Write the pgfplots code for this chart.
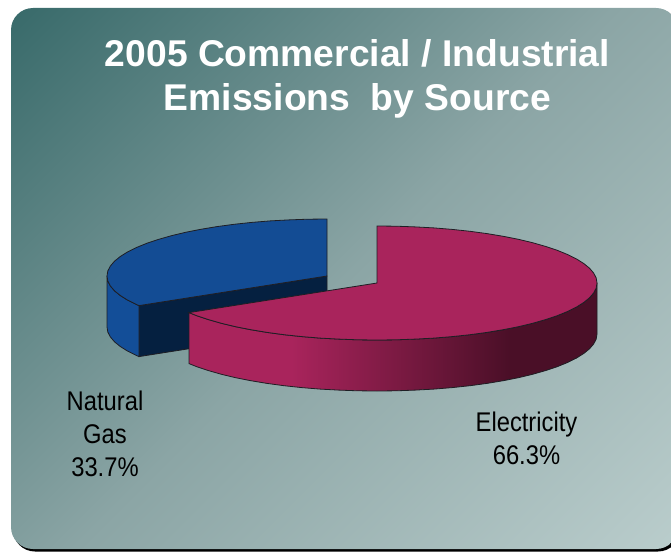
\documentclass[border=0pt]{standalone}
\usepackage{pgfplots}
\pgfplotsset{compat=1.18}
\usepackage{fontspec}
\setmainfont{Liberation Sans}

\definecolor{panelDark}{HTML}{386A6A}
\definecolor{panelMid}{HTML}{8BA5A5}
\definecolor{panelLight}{HTML}{BACDCC}
\definecolor{gasTop}{HTML}{134C94}
\definecolor{gasOuter}{HTML}{134E98}
\definecolor{gasCut}{HTML}{052040}
\definecolor{elecTop}{HTML}{A9245C}
\definecolor{elecDark}{HTML}{4A0F27}
\definecolor{edge}{HTML}{1E1E24}

% panel background: dark upper left to light lower right
\pgfdeclareverticalshading{panelgrad}{100bp}{
  color(0bp)=(panelLight); color(14.6bp)=(panelLight);
  color(50bp)=(panelMid);
  color(85.4bp)=(panelDark); color(100bp)=(panelDark)}
% rim of the electricity slice, lit at the left and falling off to the right
\pgfdeclarehorizontalshading{rimgrad}{100bp}{
  color(0bp)=(elecTop); color(37.5bp)=(elecTop);
  color(64.4bp)=(elecDark); color(100bp)=(elecDark)}

\begin{document}
\begin{tikzpicture}
\clip (0,0) rectangle (671bp,552bp);
\begin{axis}[
  at={(0,0)}, anchor=south west,
  scale only axis, width=671bp, height=552bp,
  xmin=0, xmax=671, ymin=0, ymax=552, y dir=reverse,
  hide axis, clip=false,
]
  % panel and its drop shadow
  \fill[black, rounded corners=22bp] (axis cs:13,10) rectangle (axis cs:680,551.5);
  \shade[shading=panelgrad, shading angle=45, rounded corners=22bp]
    (axis cs:11,8) rectangle (axis cs:678,549);

  % natural gas: cut face
  \addplot[fill=gasCut, draw=edge, line width=0.8bp] coordinates {
    (139,305.6) (327,276) (327,327) (139,356.6)} -- cycle;
  % natural gas: outer rim
  \addplot[fill=gasOuter, draw=edge, line width=0.8bp] coordinates {
    (107,276) (107.8,281) (110.3,285.9) (114.5,290.8) (120.3,295.5)
    (127.6,300.1) (136.5,304.5) (139,305.6)
    (139,356.6) (136.5,355.5) (127.6,351.1) (120.3,346.5) (114.5,341.8)
    (110.3,336.9) (107.8,332) (107,327)} -- cycle;
  % natural gas: top face, 33.7% of the circle
  \addplot[fill=gasTop, draw=edge, line width=0.8bp] coordinates {
    (327,276) (327,219) (307.8,219.2) (288.8,219.9) (270.1,220.9) (251.8,222.4)
    (234,224.3) (217,226.6) (200.8,229.3) (185.6,232.3) (171.4,235.7)
    (158.5,239.4) (146.8,243.3) (136.5,247.5) (127.6,251.9) (120.3,256.5)
    (114.5,261.2) (110.3,266.1) (107.8,271) (107,276) (107.8,281)
    (110.3,285.9) (114.5,290.8) (120.3,295.5) (127.6,300.1) (136.5,304.5)
    (139,305.6)} -- cycle;

  % electricity: outer rim
  \addplot[shading=rimgrad, draw=edge, line width=0.8bp] coordinates {
    (597,283) (596.2,288) (593.7,292.9) (589.5,297.8) (583.7,302.5) (576.4,307.1)
    (567.5,311.5) (557.2,315.7) (545.5,319.6) (532.6,323.3) (518.4,326.7)
    (503.2,329.7) (487,332.4) (470,334.7) (452.2,336.6) (433.9,338.1)
    (415.2,339.1) (396.2,339.8) (377,340) (357.8,339.8) (338.8,339.1)
    (320.1,338.1) (301.8,336.6) (284,334.7) (267,332.4) (250.8,329.7)
    (235.6,326.7) (221.4,323.3) (208.5,319.6) (196.8,315.7) (189,312.6)
    (189,363.6) (196.8,366.7) (208.5,370.6) (221.4,374.3) (235.6,377.7)
    (250.8,380.7) (267,383.4) (284,385.7) (301.8,387.6) (320.1,389.1)
    (338.8,390.1) (357.8,390.8) (377,391) (396.2,390.8) (415.2,390.1)
    (433.9,389.1) (452.2,387.6) (470,385.7) (487,383.4) (503.2,380.7)
    (518.4,377.7) (532.6,374.3) (545.5,370.6) (557.2,366.7) (567.5,362.5)
    (576.4,358.1) (583.7,353.5) (589.5,348.8) (593.7,343.9) (596.2,339)
    (597,334)} -- cycle;
  % electricity: top face, 66.3% of the circle
  \addplot[fill=elecTop, draw=edge, line width=0.8bp] coordinates {
    (377,283) (377,226) (396.2,226.2) (415.2,226.9) (433.9,227.9) (452.2,229.4)
    (470,231.3) (487,233.6) (503.2,236.3) (518.4,239.3) (532.6,242.7)
    (545.5,246.4) (557.2,250.3) (567.5,254.5) (576.4,258.9) (583.7,263.5)
    (589.5,268.2) (593.7,273.1) (596.2,278) (597,283) (596.2,288)
    (593.7,292.9) (589.5,297.8) (583.7,302.5) (576.4,307.1) (567.5,311.5)
    (557.2,315.7) (545.5,319.6) (532.6,323.3) (518.4,326.7) (503.2,329.7)
    (487,332.4) (470,334.7) (452.2,336.6) (433.9,338.1) (415.2,339.1)
    (396.2,339.8) (377,340) (357.8,339.8) (338.8,339.1) (320.1,338.1)
    (301.8,336.6) (284,334.7) (267,332.4) (250.8,329.7) (235.6,326.7)
    (221.4,323.3) (208.5,319.6) (196.8,315.7) (189,312.6)} -- cycle;

  % title
  \node[white, font=\fontsize{37.25bp}{44bp}\selectfont\bfseries, align=center]
    at (axis cs:357.5,79) {2005 Commercial / Industrial\\Emissions\ \ by Source};

  % slice labels
  \node[font=\fontsize{27bp}{33bp}\selectfont, align=center] at (axis cs:105,434)
    {\scalebox{0.88}[1]{Natural}\\\scalebox{0.88}[1]{Gas}\\\scalebox{0.88}[1]{33.7\%}};
  \node[font=\fontsize{27bp}{33bp}\selectfont, align=center] at (axis cs:526.5,438)
    {\scalebox{0.88}[1]{Electricity}\\\scalebox{0.88}[1]{66.3\%}};
\end{axis}
\end{tikzpicture}
\end{document}
